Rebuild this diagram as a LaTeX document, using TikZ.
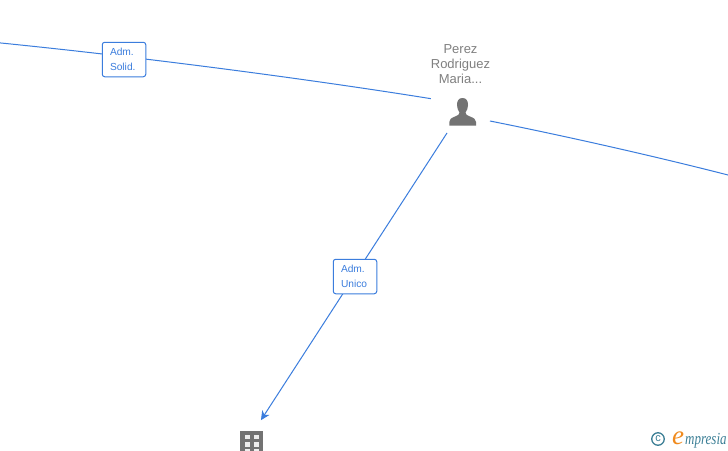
\documentclass[tikz,border=0pt]{standalone}
\usepackage{fontspec}
\usetikzlibrary{arrows.meta}
\setmainfont{Liberation Sans}
\newfontfamily\logofont{Liberation Serif}
\definecolor{edgeblue}{HTML}{3B7DDD}
\definecolor{icongray}{HTML}{737373}
\definecolor{labelgray}{HTML}{808080}
\definecolor{logoteal}{HTML}{3C7F96}
\definecolor{logoorange}{HTML}{F08A1D}
\tikzset{
  rel/.style={draw=edgeblue,line width=1pt},
  tagbox/.style={draw=edgeblue,fill=white,rounded corners=2.5pt,line width=1pt,minimum width=43.5pt,minimum height=34.5pt,inner sep=0pt,text width=28pt,align=left,text=edgeblue,font=\fontsize{10.2}{15}\selectfont},
  anchorpt/.style={inner sep=0pt,minimum size=0pt,outer sep=0pt},
  nametext/.style={text=labelgray,align=center,font=\fontsize{13}{15}\selectfont,inner sep=0pt}
}
\begin{document}
\begin{tikzpicture}[x=1pt,y=-1pt]
\useasboundingbox (0,0) rectangle (728,450);
\clip (0,0) rectangle (728,450);
\fill[white] (0,0) rectangle (728,450);
\node[anchorpt] (person) at (462,112) {};
\node[anchorpt] (company) at (251,442) {};
\coordinate (leftend) at (-2,42.7);
\coordinate (rightend) at (730,175.5);
% connectors
\draw[rel,shorten <=31.5pt] ([yshift=8.3pt]person.center) .. controls (340,84) and (170,60) .. (leftend);
\draw[rel,shorten <=28.5pt] ([yshift=-3.4pt]person.center) .. controls (560,135) and (650,155) .. (rightend);
\draw[rel,shorten <=25pt,shorten >=26pt,-{Stealth[length=9pt,width=8.5pt,inset=2.5pt]}] ([xshift=-1.4pt]person.center) -- ([xshift=-4.2pt]company.center);
% labels
\node[tagbox] (solid) at (124,59.5) {Adm.\\Solid.};
\node[tagbox] (unico) at (355,276.5) {Adm.\\Unico};
\node[nametext] (pname) at (460.5,64) {Perez\\Rodriguez\\Maria...};
% person icon
\fill[icongray] (462.5,98) .. controls (458.5,98) and (457,101) .. (457,105) .. controls (457,108) and (458,110.5) .. (459.5,112.5)
  .. controls (459.5,114.5) and (458,115.5) .. (455,116.5) .. controls (451,118) and (449.3,119.5) .. (449.3,122)
  -- (449.3,125.5) -- (476,125.5) -- (476,122) .. controls (476,119.5) and (474,118) .. (470,116.5)
  .. controls (467,115.5) and (465.5,114.5) .. (465.5,112.5) .. controls (467,110.5) and (468,108) .. (468,105) .. controls (468,101) and (466.5,98) .. (462.5,98) -- cycle;
% company icon
\fill[icongray] (240,431) rectangle (263,452);
\foreach \yy/\hh in {434.5/4.5,442/4.5,449/4}{
  \fill[white!88!icongray] (244.5,\yy) rectangle +(5,\hh);
  \fill[white!88!icongray] (253.5,\yy) rectangle +(5,\hh);
}
% logo
\node[draw=logoteal,line width=1.3pt,circle,minimum size=12.5pt,inner sep=0pt,text=logoteal,font=\fontsize{11}{11}\selectfont] (copy) at (658,439) {\raisebox{0.6pt}{c}};
\node[inner sep=0pt,anchor=base west,text=logoorange,font=\logofont\itshape\fontsize{27}{27}\selectfont] (elogo) at (672,444) {e};
\node[inner sep=0pt,anchor=base west,text=logoteal,font=\logofont\itshape\fontsize{13}{14}\selectfont] (mpresia) at (685,444) {\scalebox{1}[1.3]{mpresia}};
\end{tikzpicture}
\end{document}
